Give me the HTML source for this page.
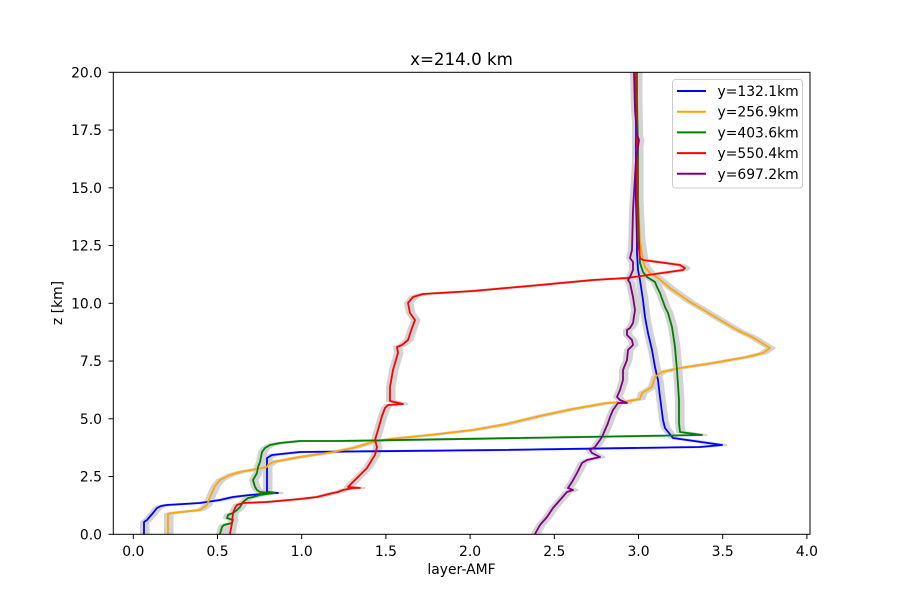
<!DOCTYPE html>
<html><head><meta charset="utf-8"><style>
html,body{margin:0;padding:0;background:#fff;}
svg{display:block;font-family:"DejaVu Sans","Liberation Sans",sans-serif;}
</style></head><body>
<svg width="900" height="600" viewBox="0 0 900 600" xmlns="http://www.w3.org/2000/svg" xmlns:xlink="http://www.w3.org/1999/xlink">
<rect width="900" height="600" fill="#fff"/>
<defs>
<clipPath id="c"><rect x="113" y="72" width="697" height="462"/></clipPath>
<polyline id="pb" points="144,534 144,522 147,520 153,513 157,508 161,506 167,505 200,503 220,500 233,497 250,495 263,494 267,493 278,493 267,492 267,458 272,455 300,452 500,450 700,447 722,445 673,438 669,433 665,428 663,420 660,397 658,380 655,367 652,350 648,333 645,317 643,300 640,280 638,270 637,253 637,240 636,200 636,150 636,100 636,72"/>
<polyline id="po" points="168,534 168,514 172,513 200,510 207,505 210,497 215,486 220,480 230,475 240,472 257,469 267,467 268,465 273,462 300,457 333,452 353,448 373,442 390,439 430,435 473,430 507,424 540,416 573,409 607,403 623,402 640,399 642,393 652,387 655,377 662,372 680,368 713,363 747,357 763,353 770,348 765,345 757,340 752,337 737,330 720,320 707,312 690,302 670,288 658,278 650,273 645,267 643,260 641,247 640,240 638,200 637,150 637,100 636,72"/>
<polyline id="pg" points="220,534 222,527 224,525 232,523 233,520 227,518 228,515 233,513 237,510 240,507 243,502 248,498 253,497 260,495 267,494 275,493 260,492 257,490 255,487 253,480 257,473 258,467 260,462 262,452 265,448 270,445 280,443 300,441 340,441 520,438 702,435 680,432 679,423 679,400 677,370 675,347 672,327 668,313 665,307 660,293 657,287 655,282 647,277 643,272 640,263 639,240 638,200 638,150 637,100 637,72"/>
<polyline id="pr" points="230,534 232,523 233,513 235,508 237,505 243,503 267,502 300,499 317,497 333,493 338,492 343,490 353,488 360,488 348,487 353,482 360,475 367,468 370,463 373,458 375,455 377,447 375,440 378,430 382,416 385,408 388,405 403,404 390,401 390,387 393,370 398,353 397,347 402,345 408,340 412,328 415,320 410,313 408,303 413,297 423,294 473,291 540,285 593,280 627,278 683,270 685,268 680,265 643,260 640,258 638,240 637,200 637,150 636,100 636,72"/>
<polyline id="pp" points="535,534 540,525 547,517 553,508 560,500 567,492 573,490 568,488 572,482 577,473 582,463 587,460 600,457 592,453 590,450 595,447 600,440 602,437 605,430 608,423 610,417 613,410 618,403 627,403 620,400 617,397 620,390 623,380 623,370 627,360 628,350 633,345 632,340 627,335 627,330 630,328 633,323 635,310 633,297 630,283 628,280 630,277 633,270 633,262 630,258 632,250 633,210 636,160 639,140 637,135 635,110 634,72"/>
<g id="all">
<use xlink:href="#pb" href="#pb"/>
<use xlink:href="#po" href="#po"/>
<use xlink:href="#pg" href="#pg"/>
<use xlink:href="#pr" href="#pr"/>
<use xlink:href="#pp" href="#pp"/>
</g>
</defs>
<g clip-path="url(#c)" fill="none" stroke-linejoin="round" stroke-linecap="round">
<g stroke="#d3d3d3" stroke-width="2">
<use xlink:href="#all" href="#all" transform="translate(-3,0)"/>
<use xlink:href="#all" href="#all" transform="translate(-1.5,0)"/>
<use xlink:href="#all" href="#all" transform="translate(0,0)"/>
<use xlink:href="#all" href="#all" transform="translate(1.5,0)"/>
<use xlink:href="#all" href="#all" transform="translate(3,0)"/>
<use xlink:href="#all" href="#all" transform="translate(4.5,0)"/>
</g>
<g stroke-width="1.8">
<use xlink:href="#pb" href="#pb" stroke="#0000ff"/>
<use xlink:href="#po" href="#po" stroke="#ffa500"/>
<use xlink:href="#pg" href="#pg" stroke="#008000"/>
<use xlink:href="#pr" href="#pr" stroke="#ff0000"/>
<use xlink:href="#pp" href="#pp" stroke="#800080"/>
</g>
</g>
<rect x="113.3" y="72.3" width="696.7" height="462" fill="none" stroke="#000" stroke-width="1"/>
<g stroke="#000" stroke-width="1">
<line x1="133.3" y1="534.3" x2="133.3" y2="539"/>
<line x1="217.5" y1="534.3" x2="217.5" y2="539"/>
<line x1="301.7" y1="534.3" x2="301.7" y2="539"/>
<line x1="385.9" y1="534.3" x2="385.9" y2="539"/>
<line x1="470.1" y1="534.3" x2="470.1" y2="539"/>
<line x1="554.3" y1="534.3" x2="554.3" y2="539"/>
<line x1="638.5" y1="534.3" x2="638.5" y2="539"/>
<line x1="722.7" y1="534.3" x2="722.7" y2="539"/>
<line x1="806.9" y1="534.3" x2="806.9" y2="539"/>
<line x1="108.5" y1="72.3" x2="113.3" y2="72.3"/>
<line x1="108.5" y1="130.05" x2="113.3" y2="130.05"/>
<line x1="108.5" y1="187.8" x2="113.3" y2="187.8"/>
<line x1="108.5" y1="245.55" x2="113.3" y2="245.55"/>
<line x1="108.5" y1="303.3" x2="113.3" y2="303.3"/>
<line x1="108.5" y1="361.05" x2="113.3" y2="361.05"/>
<line x1="108.5" y1="418.8" x2="113.3" y2="418.8"/>
<line x1="108.5" y1="476.55" x2="113.3" y2="476.55"/>
<line x1="108.5" y1="534.3" x2="113.3" y2="534.3"/>
</g>
<g font-size="13.9" fill="#000" text-anchor="middle">
<text x="133.3" y="556">0.0</text>
<text x="217.5" y="556">0.5</text>
<text x="301.7" y="556">1.0</text>
<text x="385.9" y="556">1.5</text>
<text x="470.1" y="556">2.0</text>
<text x="554.3" y="556">2.5</text>
<text x="638.5" y="556">3.0</text>
<text x="722.7" y="556">3.5</text>
<text x="806.9" y="556">4.0</text>
<text x="461.5" y="574">layer-AMF</text>
</g>
<g font-size="13.9" fill="#000" text-anchor="end">
<text x="102" y="77.3">20.0</text>
<text x="102" y="135.05">17.5</text>
<text x="102" y="192.8">15.0</text>
<text x="102" y="250.55">12.5</text>
<text x="102" y="308.3">10.0</text>
<text x="102" y="366.05">7.5</text>
<text x="102" y="423.8">5.0</text>
<text x="102" y="481.55">2.5</text>
<text x="102" y="539.3">0.0</text>
</g>
<text x="0" y="0" font-size="13.9" text-anchor="middle" transform="translate(62,303) rotate(-90)">z [km]</text>
<text x="461.5" y="65" font-size="16.7" text-anchor="middle">x=214.0 km</text>
<rect x="672.5" y="79.5" width="130" height="108.5" rx="3" fill="#fff" fill-opacity="0.8" stroke="#cccccc" stroke-width="1"/>
<g stroke-width="2">
<line x1="677" y1="91" x2="706" y2="91" stroke="#0000ff"/>
<line x1="677" y1="111.7" x2="706" y2="111.7" stroke="#ffa500"/>
<line x1="677" y1="132.4" x2="706" y2="132.4" stroke="#008000"/>
<line x1="677" y1="153.1" x2="706" y2="153.1" stroke="#ff0000"/>
<line x1="677" y1="173.8" x2="706" y2="173.8" stroke="#800080"/>
</g>
<g font-size="13.9" fill="#000">
<text x="717.5" y="96">y=132.1km</text>
<text x="717.5" y="116.7">y=256.9km</text>
<text x="717.5" y="137.4">y=403.6km</text>
<text x="717.5" y="158.1">y=550.4km</text>
<text x="717.5" y="178.8">y=697.2km</text>
</g>
</svg>
</body></html>
